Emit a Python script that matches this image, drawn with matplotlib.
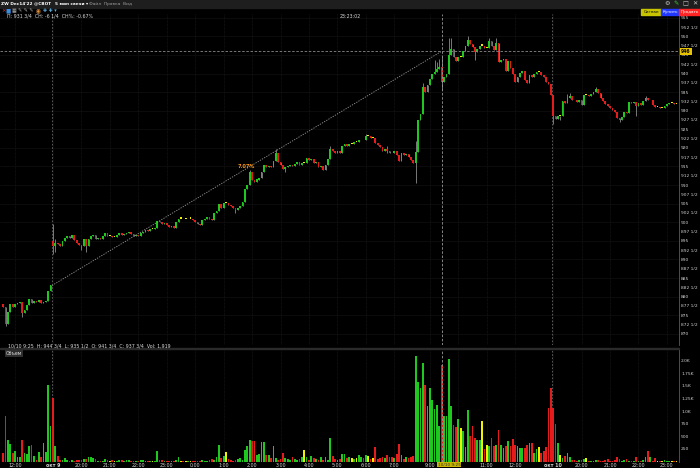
import numpy as np
import matplotlib.pyplot as plt
from matplotlib.patches import Rectangle

# 5-min candles, index 0 = Oct 7 11:35 (only trading time is shown)
close_oct7 = [877.25, 872.75, 876, 878, 877.25, 878, 878.25, 878.5, 875.5, 876.5,
              877.75, 879.25, 878.25, 878.75, 878.5, 879, 878.25, 878.5, 878.75, 881.5, 883]
close_oct9 = [893.5, 894.5, 894.25, 893.75, 895, 895.75, 896.25, 895.75, 896.5, 895.25,
              894.5, 894, 893.5, 895.5, 893.75, 895.5, 896.25, 896.5, 895.5, 895.75,
              895.5, 896.25, 897, 896.25, 896.25, 896, 896, 896.5, 897, 896.5,
              896.75, 897, 897.25, 896.75, 896.25, 896.5, 896.25, 897, 897.5, 898,
              897.75, 898.25, 898.25, 898.5, 900.25, 900, 899.5, 899.75, 899.25, 898.75,
              899, 898.5, 900, 901, 901, 900.75, 900.75, 901, 901, 900.5,
              900, 899.5, 899.25, 900.5, 901, 901.5, 901, 900.5, 902.5, 903,
              905, 903.75, 905.25, 905.25, 904.75, 904.25, 903.75, 903.25, 903.75, 904.25,
              905.5, 909, 910, 913.5, 911.25, 910.75, 911.5, 912, 913.5, 915.5,
              914.75, 915.25, 914.75, 916.5, 918.5, 916.25, 915.5, 914.25, 914.75, 915.25,
              915.5, 915, 915.75, 916.25, 915.5, 916, 916, 917.25, 916.75, 917,
              916, 916.25, 914.75, 915, 914, 915.5, 917, 919.75, 919.25, 918.75,
              919.25, 918.75, 920.5, 921, 920.5, 921, 921, 921.5, 921.5, 922,
              922.25, 922, 923.25, 923.25, 922.75, 922.75, 921.25, 920.75, 920.25, 919.25,
              919.75, 919.25, 918.75, 918.5, 919.25, 918, 916.5, 918.5, 918, 918.25,
              917.5, 916.75, 916]
close_day10 = [919, 927.5, 929, 936.5, 935, 937, 938.5, 939.75, 940.5, 941.25,
               941.75, 937.75, 939, 940, 945, 946.5, 944.5, 943.25, 944.5, 944.5,
               946, 947.5, 949, 948, 947, 945.75, 946.5, 947.5, 947.5, 946.75,
               946.75, 948.75, 947.5, 946.25, 948.25, 943, 943.5, 944, 940.75, 943.25,
               941.5, 939.75, 937.75, 939, 940.25, 940.75, 938.25, 937.5, 939.5, 939,
               940, 940.5, 940.5, 939.5, 939, 937.75, 937.25, 934.25]
close_night10 = [928.5, 927.75, 928.5, 928.5, 932.5, 932, 933.5, 934, 933, 932.75,
                 932.25, 932.75, 931.5, 934.25, 934.25, 934, 934.5, 935, 935.75, 934.75,
                 933.5, 932.5, 931.75, 931.25, 930.75, 930.25, 929.75, 928, 927.5, 928.25,
                 929.75, 929.5, 932.25, 932, 932.25, 931.25, 932, 931.5, 932.5, 933.5,
                 932.75, 933, 931.5, 931, 931, 930.75, 930.75, 931.25, 931.75, 932,
                 932, 931.75, 931.75]

# opening prices after a gap (all other candles open at the previous close)
gap_open = {0: 878.0, 21: 895.0, 174: 916.0}
wick_high = {21: 899.5, 22: 895.5, 104: 914, 115: 919.75, 138: 920.5, 153: 923.75,
             162: 920.5, 174: 921.75, 177: 937.5, 182: 943.5, 183: 943, 184: 944,
             185: 944.75, 188: 949.5, 189: 949.5, 196: 950, 205: 949.5, 208: 949.5,
             238: 934.5, 239: 934.75, 250: 936.5, 271: 934}
wick_low = {1: 872, 8: 874.5, 21: 891.5, 22: 892, 33: 892.5, 35: 892, 98: 902.5,
            119: 913.5, 162: 918.5, 174: 910.5, 185: 935.5, 199: 943.5, 232: 926.5,
            235: 927.5, 260: 927, 267: 928.5}

vol_oct7 = [165, 900, 430, 350, 165, 210, 100, 100, 430, 165, 145, 300, 320, 110, 30,
            185, 100, 360, 200, 1510, 710]
vol_oct9 = [1270, 310, 120, 30, 40, 70, 40, 20, 30, 20,
            30, 30, 40, 50, 50, 100, 90, 80, 50, 20,
            10, 20, 50, 30, 10, 40, 20, 15, 30, 25,
            10, 30, 30, 10, 10, 10, 15, 30, 25, 20,
            20, 20, 10, 15, 210, 30, 30, 20, 20, 15,
            20, 20, 40, 90, 10, 20, 10, 10, 10, 10,
            20, 15, 10, 30, 20, 20, 40, 60, 40, 100,
            330, 80, 110, 185, 50, 40, 20, 40, 60, 70,
            40, 230, 310, 430, 400, 410, 130, 150, 380, 380,
            130, 130, 70, 300, 80, 40, 50, 165, 80, 50,
            30, 100, 50, 30, 50, 100, 240, 100, 40, 120,
            80, 50, 40, 100, 40, 100, 40, 460, 120, 60,
            40, 60, 150, 150, 70, 100, 80, 60, 80, 140,
            100, 80, 130, 120, 50, 80, 290, 60, 80, 100,
            70, 130, 100, 90, 80, 150, 340, 140, 60, 90,
            80, 100, 120]
vol_day10 = [2090, 1570, 1470, 1950, 1510, 1110, 1460, 1215, 1050, 1130,
             705, 1919, 910, 910, 2040, 1110, 720, 690, 855, 660,
             615, 290, 1030, 515, 710, 475, 430, 430, 800, 255,
             335, 315, 465, 315, 335, 625, 335, 270, 300, 400,
             315, 450, 320, 300, 270, 270, 270, 335, 365, 365,
             170, 250, 280, 170, 215, 290, 1065, 1460]
vol_night10 = [1065, 755, 365, 135, 70, 105, 170, 90, 40, 30,
               20, 25, 30, 45, 70, 20, 15, 20, 25, 40,
               20, 15, 25, 50, 20, 15, 30, 100, 60, 20,
               25, 60, 20, 15, 20, 90, 20, 15, 25, 100,
               215, 85, 20, 70, 15, 20, 10, 40, 15, 20,
               10, 15, 10]

# 10:00 sits under the crosshair date box in the original, so it is not drawn
time_ticks = [5, 21, 33, 45, 57, 69, 81, 93, 105, 117, 129, 141, 153, 165,
              180, 204, 216, 232, 244, 256, 268, 280]
time_labels = ['12:00', 'окт 9', '20:00', '21:00', '22:00', '23:00', '0:00', '1:00',
               '2:00', '3:00', '4:00', '5:00', '6:00', '7:00', '9:00',
               '11:00', '12:00', 'окт 10', '20:00', '21:00', '22:00', '23:00']
hour_lines = time_ticks + [192]
session_starts = [21, 232]
cross_idx = 185
cross_price = 946
trend_from = (20.6, 883)
trend_to = (185, 946)

closes = np.array(close_oct7 + close_oct9 + close_day10 + close_night10)
volumes = np.array(vol_oct7 + vol_oct9 + vol_day10 + vol_night10)
n = len(closes)
x = np.arange(n)
opens = np.concatenate([[closes[0]], closes[:-1]])
for k, v in gap_open.items():
    opens[k] = v
highs = np.maximum(opens, closes)
lows = np.minimum(opens, closes)
for k, v in wick_high.items():
    highs[k] = max(highs[k], v)
for k, v in wick_low.items():
    lows[k] = min(lows[k], v)

GREEN = '#1ec81e'
RED = '#e61c1c'
YELLOW = '#f0f000'
cols = np.where(closes > opens, GREEN, np.where(closes < opens, RED, YELLOW))

W, H = 700, 468
fig = plt.figure(figsize=(7, 4.68), dpi=100, facecolor='black')


def fx(px):
    return px / W


def fy(py):
    return 1 - py / H


ax = fig.add_axes([0, fy(345), fx(679), (345 - 14) / H], facecolor='black')
axv = fig.add_axes([0, fy(461.6), fx(679), (461.6 - 350) / H], facecolor='black')

xlim = (-1.35, 285.1)

# --- price panel ---
ax.vlines(x, lows, highs, color='#8c8c8c', lw=0.6, zorder=3)
body = np.abs(closes - opens)
body = np.where(body == 0, 0.3, body)
ax.bar(x, body, bottom=np.minimum(opens, closes), width=0.72, color=cols,
       linewidth=0, zorder=4)
ax.plot([trend_from[0], trend_to[0]], [trend_from[1], trend_to[1]],
        color='#9a9a9a', lw=0.6, ls=(0, (1.5, 1.5)), zorder=5)
ax.text(102.5, 914.9, '7.07%', color='#ff9a1a', fontsize=3.6, fontweight='bold',
        ha='center', va='center', zorder=6)

ax.set_xlim(*xlim)
ax.set_ylim(867.0, 956.0)
pticks = np.arange(870, 955.1, 2.5)
ax.set_yticks(pticks)


def price_label(p):
    whole = int(p)
    return f'{whole} 1/2' if p - whole else f'{whole}'


ax.set_yticklabels([price_label(p) for p in pticks])
ax.yaxis.tick_right()
ax.tick_params(axis='y', length=0, pad=1.5, labelsize=3.2, labelcolor='#d2d2d2')
for lab in ax.get_yticklabels():
    lab.set_horizontalalignment('left')
ax.set_xticks([])

# --- volume panel ---
axv.bar(x, volumes, width=0.72, color=cols, linewidth=0, zorder=3)
axv.set_xlim(*xlim)
axv.set_ylim(0, 2214)
vticks = [250, 500, 750, 1000, 1250, 1500, 1750, 2000]
vlabels = ['250', '500', '750', '1.0K', '1.25K', '1.5K', '1.75K', '2.0K']
axv.set_yticks(vticks)
axv.set_yticklabels(vlabels)
axv.yaxis.tick_right()
axv.tick_params(axis='y', length=0, pad=1.5, labelsize=3.2, labelcolor='#d2d2d2')
for lab in axv.get_yticklabels():
    lab.set_horizontalalignment('left')
axv.set_xticks(time_ticks)
axv.set_xticklabels(time_labels)
axv.tick_params(axis='x', length=0, pad=0.8, labelsize=3.4, labelcolor='#d2d2d2')
for lab in axv.get_xticklabels():
    if lab.get_text().startswith('окт'):
        lab.set_fontweight('bold')

for a in (ax, axv):
    for s in ('top', 'left', 'bottom'):
        a.spines[s].set_visible(False)
    a.spines['right'].set_color('#5a5a5a')
    a.spines['right'].set_linewidth(0.6)
    for t in hour_lines:
        a.axvline(t, color='#1c1c1c', lw=0.5, ls=(0, (1, 1)), zorder=1)
    for s0 in session_starts:
        a.axvline(s0 - 0.45, color='#6a6a6a', lw=0.6, ls=(0, (2, 2)), zorder=2)
    a.axvline(cross_idx, color='#9a9a9a', lw=0.6, ls=(0, (3, 2)), zorder=6)
for p in pticks[::2]:
    ax.axhline(p, color='#141414', lw=0.4, zorder=1)
ax.axhline(cross_price, color='#8a8a8a', lw=0.6, ls=(0, (3, 2)), zorder=6)

# --- header and labels ---
fig.patches.append(Rectangle((0, fy(7.5)), 1, 7.5 / H, transform=fig.transFigure,
                             color='#1e1e1e', zorder=0))
fig.text(fx(1), fy(3.8), "ZW Dec14'22 @CBOT", color='white', fontsize=3.1,
         fontweight='bold', va='center')
fig.text(fx(55), fy(3.8), '5 мин свечи ▾', color='white', fontsize=3.1,
         fontweight='bold', va='center')
fig.text(fx(89), fy(3.8), 'Файл  Правка  Вид', color='#9a9a9a', fontsize=3.2,
         va='center')
fig.text(fx(664), fy(3.8), '⚙', color='#c8c8c8', fontsize=4.5, va='center')
fig.text(fx(673), fy(3.8), '✎', color='#3cc83c', fontsize=4.5, va='center')
fig.text(fx(682), fy(3.8), '□', color='#c8c8c8', fontsize=4.5, va='center')
fig.text(fx(692), fy(3.8), '✕', color='#c8c8c8', fontsize=4.5, va='center')
fig.text(fx(1), fy(11), '×', color='#e03030', fontsize=4, va='center')
fig.text(fx(5), fy(11), '■', color='#3a8ee0', fontsize=4, va='center')
fig.text(fx(12), fy(11), '▦ ✎ ✎ ✎', color='#b0b0b0', fontsize=3.5, va='center')
fig.text(fx(36), fy(11), '◉', color='#e09040', fontsize=4, va='center')
fig.text(fx(43), fy(11), '✚ ✚ ▾', color='#60b0e0', fontsize=3.5, va='center')

buttons = [(641, 661, '#c8c400', 'Сигнал', 'black'),
           (661, 679, '#2038ff', 'Купить', 'white'),
           (679, 700, '#ff2424', 'Продать', 'white')]
for x0, x1, c, label, tc in buttons:
    fig.patches.append(Rectangle((fx(x0), fy(14.5)), fx(x1 - x0), 5.5 / H,
                                 transform=fig.transFigure, color=c, zorder=1))
    fig.text(fx((x0 + x1) / 2), fy(11.8), label, color=tc, fontsize=3.0,
             ha='center', va='center')

fig.text(fx(7), fy(16.5), 'П: 931 3/4  CH: -6 1/4  CH%: -0.67%', color='#d8d8d8',
         fontsize=3.4, va='center')
fig.text(fx(350), fy(16.5), '23:23:02', color='#d8d8d8', fontsize=3.4,
         ha='center', va='center')
fig.text(fx(8), fy(346.5), '10/10 9:25  H: 944 3/4  L: 935 1/2  O: 941 3/4  '
         'C: 937 3/4  Vol: 1,919', color='#d8d8d8', fontsize=3.4, va='center')
fig.patches.append(Rectangle((0, fy(349.2)), fx(679), 1.0 / H,
                             transform=fig.transFigure, color='#2a2a2a', zorder=1))
fig.text(fx(6), fy(353.5), 'Объем', color='#e0e0e0', fontsize=3.3, va='center',
         bbox=dict(boxstyle='square,pad=0.25', fc='#2e2e2e', ec='none'))

# crosshair markers
fig.text(fx(681), fy(51.5), '946', color='black', fontsize=3.3, va='center',
         fontweight='bold',
         bbox=dict(boxstyle='square,pad=0.25', fc='#e8c300', ec='none'))
fig.text(fx(449), fy(464.5), '10/10 9:25', color='#303030', fontsize=3.1,
         ha='center', va='center', zorder=10,
         bbox=dict(boxstyle='square,pad=0.2', fc='#c8b400', ec='none'))

fig.savefig('out.png', dpi=100, facecolor='black')
